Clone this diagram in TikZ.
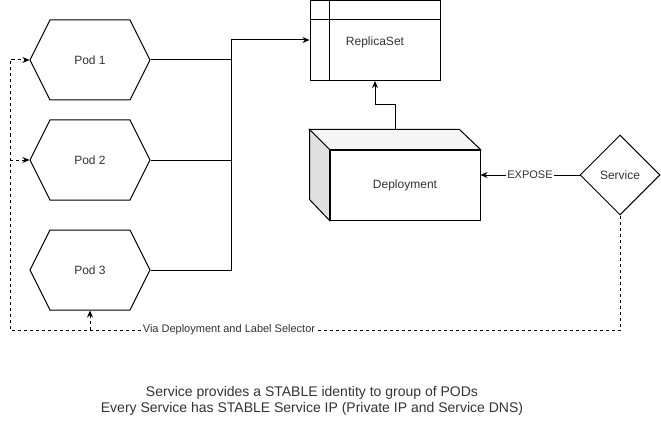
\documentclass[tikz,border=0pt]{standalone}
\usepackage{fontspec}
\setmainfont{Liberation Sans}
\usetikzlibrary{shapes.geometric,shapes.symbols,arrows.meta}
\definecolor{topface}{HTML}{F5F5F5}
\definecolor{sideface}{HTML}{E0E0E0}
\definecolor{txt}{HTML}{333333}

\begin{document}
\begin{tikzpicture}[x=1pt,y=-1pt,line width=1pt,text=txt,
  font=\fontsize{12}{14}\selectfont,
  arr/.style={-{Stealth[length=7pt,width=6pt]}},
  dsh/.style={dash pattern=on 3pt off 3pt},
  pod/.style={signal,signal to=east and west,signal pointer angle=126.87,draw,
    minimum width=120pt,minimum height=80pt,inner sep=0pt},
  rsbox/.style={draw,minimum width=130pt,minimum height=80pt,inner sep=0pt},
  depbox/.style={draw,fill=white,minimum width=150pt,minimum height=70pt,inner sep=0pt},
  svc/.style={diamond,draw,aspect=1,minimum width=80pt,minimum height=80pt,inner sep=0pt},
  lbl/.style={fill=white,inner sep=1pt,font=\fontsize{11}{13}\selectfont}]
  \useasboundingbox (0,0) rectangle (661,441);

  % pods
  \node[pod] (p1) at (90,60) {Pod 1};
  \node[pod] (p2) at (90,160) {Pod 2};
  \node[pod] (p3) at (90,270) {Pod 3};

  % replicaset
  \node[rsbox] (rs) at (375,40.5) {};
  \node (rstxt) at (375,42) {ReplicaSet};
  \draw ([yshift=-20pt]rs.north west) -- ([yshift=-20pt]rs.north east);
  \draw ([xshift=20pt]rs.north west) -- ([xshift=20pt]rs.south west);

  % deployment cube
  \node[depbox] (dep) at (405,185) {Deployment};
  \filldraw[fill=topface] (dep.north west) -- ++(-20,-20) -- ++(150,0) -- (dep.north east) -- cycle;
  \filldraw[fill=sideface] (dep.north west) -- ++(-20,-20) -- ++(0,70) -- (dep.south west) -- cycle;
  \coordinate (deptop) at (395,130);

  % service
  \node[svc] (svc) at (620,175) {Service};

  % pods to replicaset
  \coordinate (bus) at (231,40);
  \draw (p1.east) -| (bus);
  \draw (p2.east) -| (bus);
  \draw[arr] (p3.east) -| (bus) -- (bus -| rs.west);

  \draw[arr] (deptop) -- ++(0,-25) -| (rs.south);
  \draw[arr] (svc.west) -- node[lbl] {EXPOSE} (svc.west -| dep.east);

  % selector loop
  \coordinate (rb) at (10,330);
  \draw[dsh,arr] (svc.south) |- (rb) |- (p1.west);
  \draw[dsh,arr] (rb |- p2.west) -- (p2.west);
  \draw[dsh,arr] (p3.south |- rb) -- (p3.south);
  \node[lbl] (via) at (229,330) {Via Deployment and Label Selector};

  \node[align=center,font=\fontsize{14}{16}\selectfont] (note) at (312,401)
    {Service provides a STABLE identity to group of PODs\\
     Every Service has STABLE Service IP (Private IP and Service DNS)};
\end{tikzpicture}
\end{document}
